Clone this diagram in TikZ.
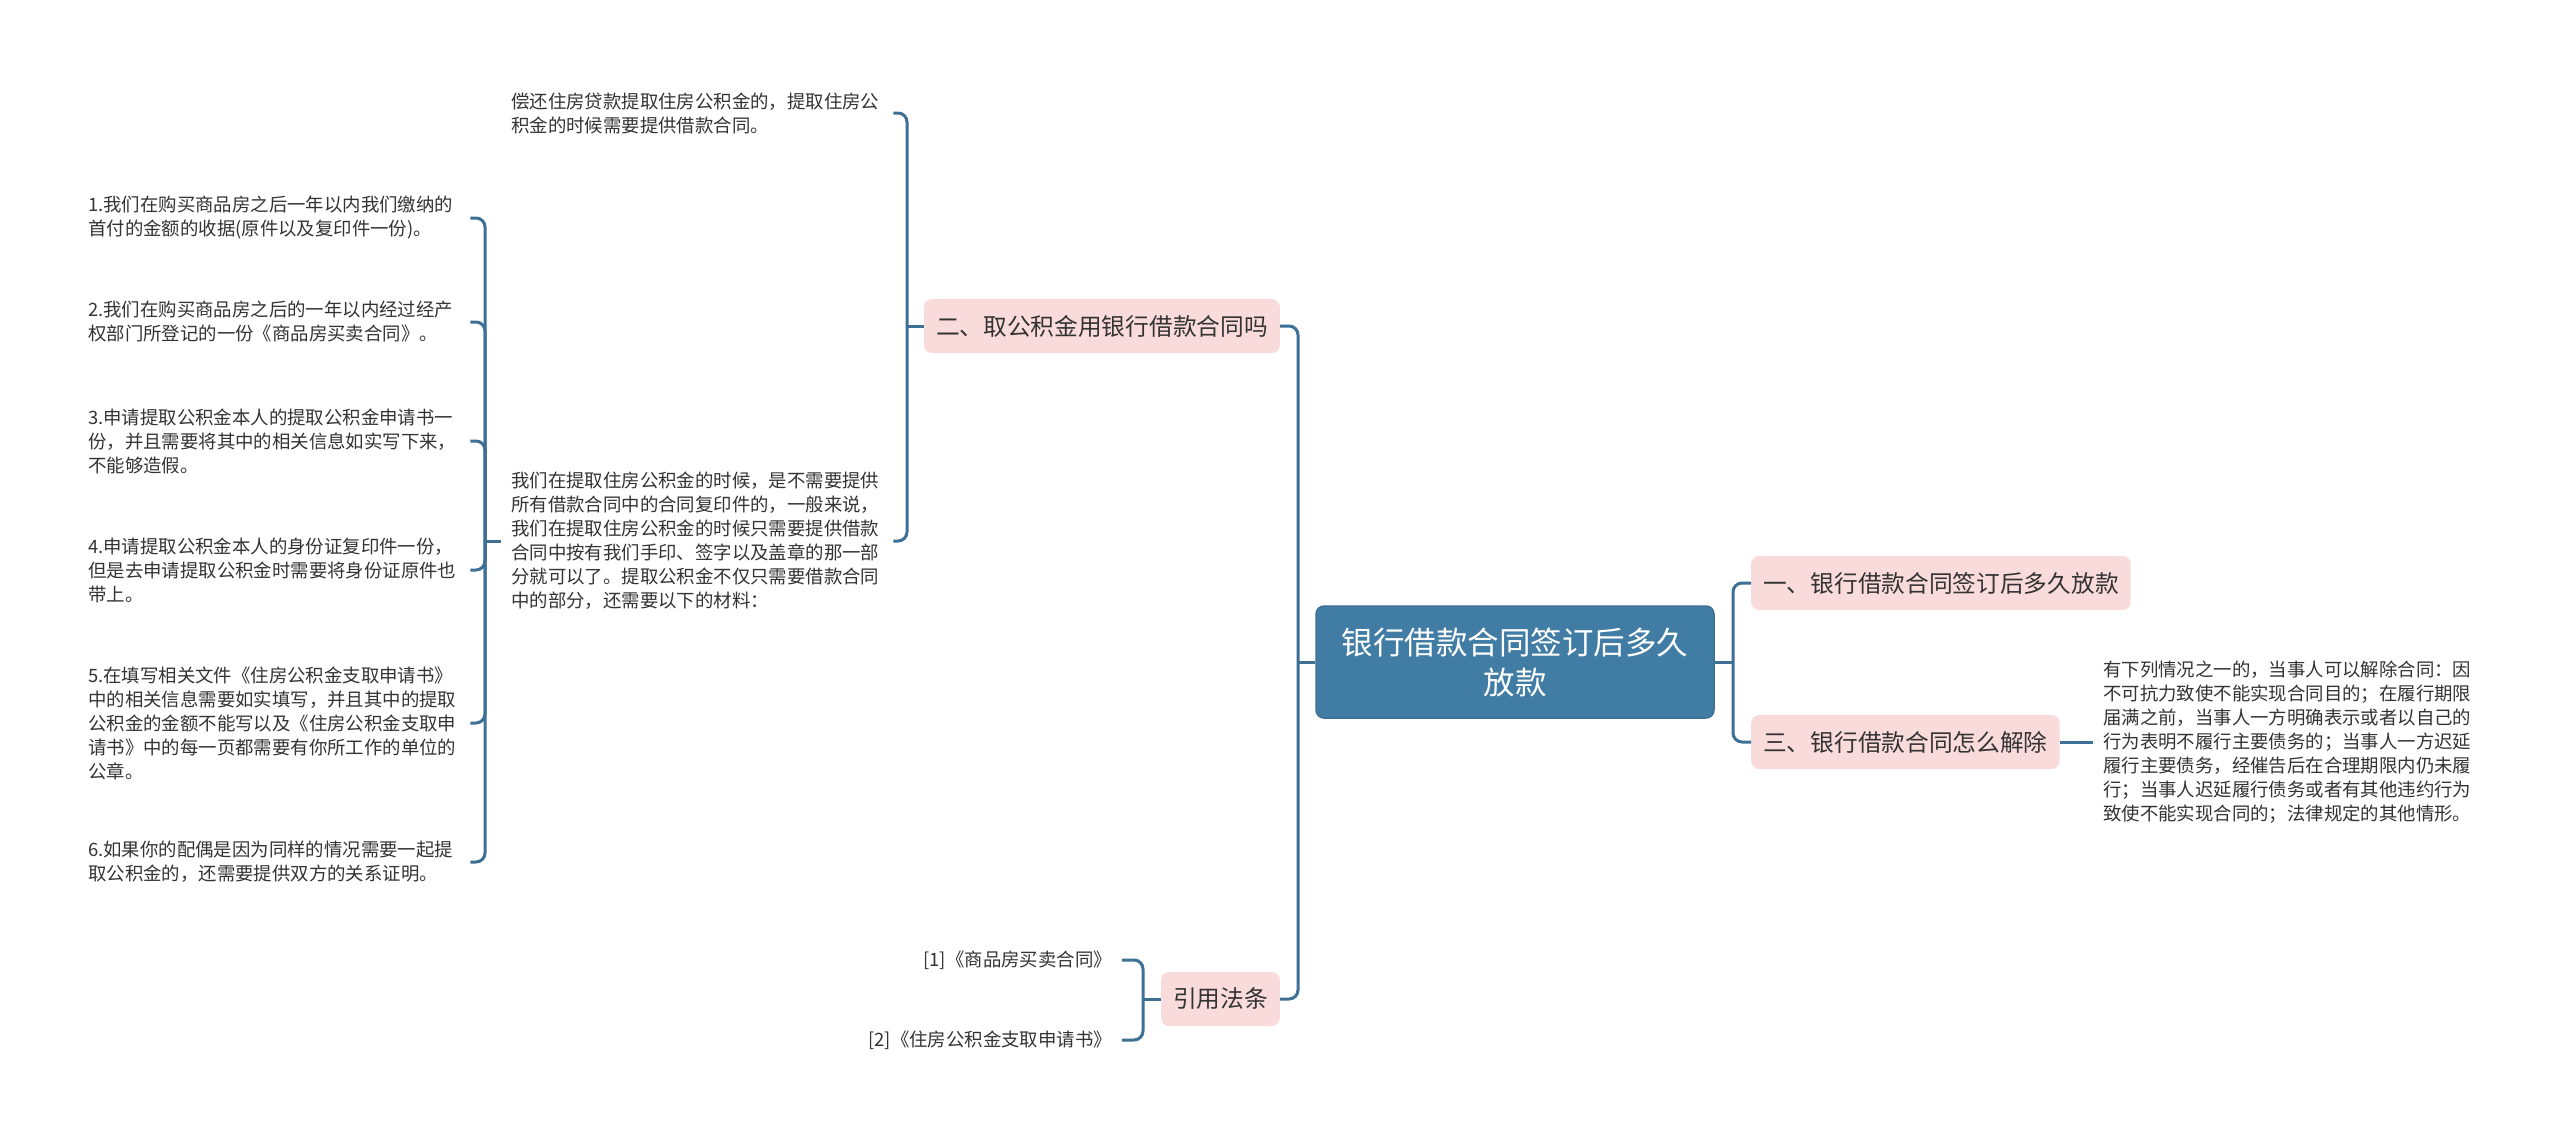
\documentclass[tikz,border=0pt]{standalone}
\usepackage{fontspec}
\setmainfont{Noto Sans CJK SC}
\usepackage{tikz}
\usetikzlibrary{calc}
\usepackage{xcolor}
\definecolor{linkblue}{RGB}{62, 112, 150}
\definecolor{rootblue}{RGB}{64, 124, 164}
\definecolor{topicpink}{RGB}{250, 219, 219}
\definecolor{inkgray}{RGB}{51, 51, 51}

\begin{document}
\begin{tikzpicture}[x=1pt, y=-1pt,
  branch/.style={draw=linkblue, line width=3pt, rounded corners=9pt},
  rootbox/.style={fill=rootblue, draw=linkblue, line width=1.5pt, rounded corners=8pt, text=white,
    font=\fontsize{31.5}{40}\selectfont, align=center, text width=370pt,
    minimum width=398pt, minimum height=112pt, inner sep=0pt},
  topic/.style={fill=topicpink, rounded corners=8pt, text=inkgray,
    font=\fontsize{23.7}{28}\selectfont, inner xsep=12pt, minimum height=54pt},
  leaf/.style={text=inkgray, font=\fontsize{18.4}{24}\selectfont, align=left,
    text width=372pt, inner xsep=10pt, inner ysep=2pt},
  lawref/.style={text=inkgray, font=\fontsize{18.4}{24}\selectfont, inner xsep=10pt}]

  % page
  \fill[white] (0,0) rectangle (2560,1140);
  \useasboundingbox (0,0) rectangle (2560,1140);

  % root and topics
  \node[rootbox] (root) at (1515,662) {银行借款合同签订后多久\\放款};
  \node[topic, anchor=west] (t1) at (1751,583) {一、银行借款合同签订后多久放款};
  \node[topic, anchor=east] (t2) at (1280,326) {二、取公积金用银行借款合同吗};
  \node[topic, anchor=west] (t3) at (1751,742) {三、银行借款合同怎么解除};
  \node[topic, anchor=east] (tlaw) at (1280,999) {引用法条};

  % leaves of topic 2
  \node[leaf, anchor=west] (n1) at (501,113) {偿还住房贷款提取住房公积金的，提取住房公\\积金的时候需要提供借款合同。};
  \node[leaf, anchor=west] (n2) at (501,541) {我们在提取住房公积金的时候，是不需要提供\\所有借款合同中的合同复印件的，一般来说，\\我们在提取住房公积金的时候只需要提供借款\\合同中按有我们手印、签字以及盖章的那一部\\分就可以了。提取公积金不仅只需要借款合同\\中的部分，还需要以下的材料：};

  % materials
  \node[leaf, anchor=west] (s1) at (78,218) {1.我们在购买商品房之后一年以内我们缴纳的\\首付的金额的收据(原件以及复印件一份)。};
  \node[leaf, anchor=west] (s2) at (78,322) {2.我们在购买商品房之后的一年以内经过经产\\权部门所登记的一份《商品房买卖合同》。};
  \node[leaf, anchor=west] (s3) at (78,441) {3.申请提取公积金本人的提取公积金申请书一\\份，并且需要将其中的相关信息如实写下来，\\不能够造假。};
  \node[leaf, anchor=west] (s4) at (78,570) {4.申请提取公积金本人的身份证复印件一份，\\但是去申请提取公积金时需要将身份证原件也\\带上。};
  \node[leaf, anchor=west] (s5) at (78,723) {5.在填写相关文件《住房公积金支取申请书》\\中的相关信息需要如实填写，并且其中的提取\\公积金的金额不能写以及《住房公积金支取申\\请书》中的每一页都需要有你所工作的单位的\\公章。};
  \node[leaf, anchor=west] (s6) at (78,862) {6.如果你的配偶是因为同样的情况需要一起提\\取公积金的，还需要提供双方的关系证明。};

  % leaf of topic 3
  \node[leaf, anchor=west] (r1) at (2093,742) {有下列情况之一的，当事人可以解除合同：因\\不可抗力致使不能实现合同目的；在履行期限\\届满之前，当事人一方明确表示或者以自己的\\行为表明不履行主要债务的；当事人一方迟延\\履行主要债务，经催告后在合理期限内仍未履\\行；当事人迟延履行债务或者有其他违约行为\\致使不能实现合同的；法律规定的其他情形。};

  % law references
  \node[lawref, anchor=east] (c1) at (1122,960) {[1]《商品房买卖合同》};
  \node[lawref, anchor=east] (c2) at (1122,1040) {[2]《住房公积金支取申请书》};

  % joints
  \coordinate (jrl) at (1298,662);
  \coordinate (jrr) at (1733,662);
  \coordinate (jt2) at (907,326);
  \coordinate (jn2) at (485,541);
  \coordinate (jlaw) at (1143,999);

  % connectors
  \draw[branch] (root.west) -- (jrl);
  \draw[branch] (t2.east) -| (jrl);
  \draw[branch] (tlaw.east) -| (jrl);
  \draw[branch] (root.east) -- (jrr);
  \draw[branch] (t1.west) -| (jrr);
  \draw[branch] (t3.west) -| (jrr);
  \draw[branch] (t2.west) -- (jt2);
  \draw[branch] (n1.east) -| (jt2);
  \draw[branch] (n2.east) -| (jt2);
  \draw[branch] (n2.west) -- (jn2);
  \foreach \i in {1,...,6}
    \draw[branch] (s\i.east) -| (jn2);
  \draw[branch] (t3.east) -- (r1.west);
  \draw[branch] (tlaw.west) -- (jlaw);
  \draw[branch] (c1.east) -| (jlaw);
  \draw[branch] (c2.east) -| (jlaw);

\end{tikzpicture}
\end{document}
